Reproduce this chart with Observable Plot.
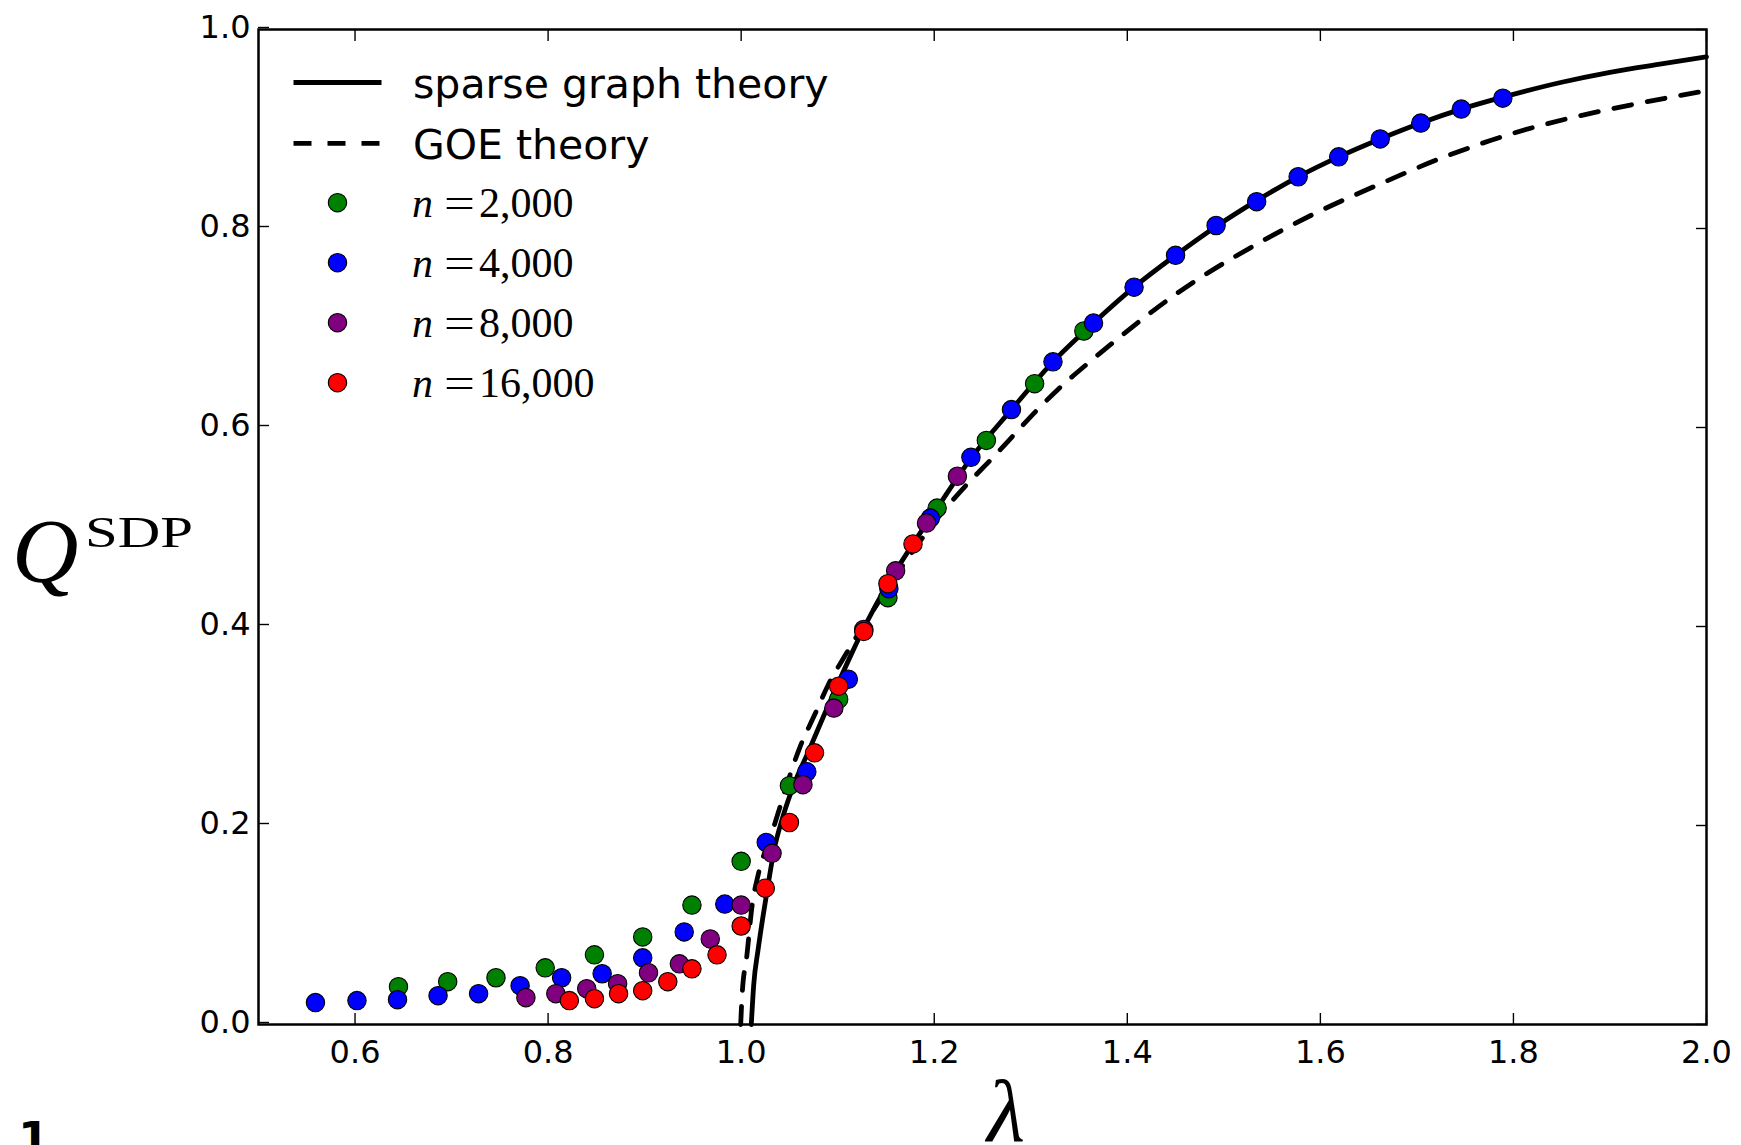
<!DOCTYPE html>
<html>
<head>
<meta charset="utf-8">
<script src="https://cdn.jsdelivr.net/npm/d3@7"></script>
<script src="https://cdn.jsdelivr.net/npm/@observablehq/plot@0.6"></script>
<style>
  html, body { margin: 0; padding: 0; background: #fff; }
  #chart { position: relative; width: 1741px; height: 1145px; overflow: hidden; }
  #chart svg { display: block; }
</style>
</head>
<body>
<div id="chart"></div>
<script>
// ---------- data ----------
const xTicks = [0.6, 0.8, 1.0, 1.2, 1.4, 1.6, 1.8, 2.0];
const yTicks = [0.0, 0.2, 0.4, 0.6, 0.8, 1.0];

const seriesLabels = ["2,000", "4,000", "8,000", "16,000"];
const seriesColors = ["#008000", "#0000ff", "#800080", "#ff0000"];
const lineLabels = ["sparse graph theory", "GOE theory"];

// n = 2,000
const lambda2k = [0.645, 0.696, 0.746, 0.797, 0.848, 0.898, 0.949, 1.000, 1.050, 1.101, 1.152, 1.203, 1.254, 1.304, 1.355];
const q2k      = [0.038, 0.043, 0.047, 0.057, 0.070, 0.088, 0.120, 0.164, 0.240, 0.327, 0.429, 0.519, 0.587, 0.644, 0.697];

// n = 4,000
const lambda4k = [0.559, 0.602, 0.644, 0.686, 0.728, 0.771, 0.814, 0.856, 0.898, 0.941, 0.983, 1.026, 1.068, 1.111, 1.153,
                  1.196, 1.238, 1.280, 1.323, 1.365, 1.407, 1.450, 1.492, 1.534, 1.577, 1.619, 1.662, 1.704, 1.746, 1.789];
const q4k      = [0.022, 0.024, 0.025, 0.029, 0.031, 0.039, 0.047, 0.051, 0.067, 0.093, 0.121, 0.183, 0.254, 0.347, 0.438,
                  0.509, 0.570, 0.618, 0.666, 0.705, 0.741, 0.773, 0.803, 0.827, 0.852, 0.872, 0.890, 0.906, 0.920, 0.931];

// n = 8,000
const lambda8k = [0.777, 0.808, 0.840, 0.872, 0.904, 0.936, 0.968, 1.000, 1.032, 1.064, 1.096, 1.127, 1.160, 1.192, 1.224];
const q8k      = [0.027, 0.031, 0.036, 0.041, 0.052, 0.061, 0.086, 0.120, 0.172, 0.241, 0.318, 0.397, 0.456, 0.504, 0.551];

// n = 16,000
const lambda16k = [0.822, 0.848, 0.873, 0.898, 0.924, 0.949, 0.975, 1.000, 1.025, 1.050, 1.076, 1.101, 1.127, 1.152, 1.178];
const q16k      = [0.024, 0.026, 0.031, 0.034, 0.043, 0.056, 0.070, 0.099, 0.137, 0.203, 0.273, 0.340, 0.395, 0.443, 0.483];

// sparse graph theory (solid)
const sparseLambda = [1.0105, 1.013, 1.0175, 1.0225, 1.028, 1.034, 1.043, 1.055, 1.070, 1.085, 1.100, 1.115, 1.130, 1.152, 1.178,
                      1.203, 1.238, 1.280, 1.323, 1.365, 1.407, 1.450, 1.492, 1.534, 1.577, 1.619, 1.662, 1.704, 1.746, 1.789,
                      1.850, 1.900, 1.950, 2.000];
const sparseQ      = [0.000, 0.040, 0.075, 0.108, 0.141, 0.175, 0.208, 0.242, 0.275, 0.309, 0.342, 0.374, 0.404, 0.443, 0.483,
                      0.519, 0.569, 0.618, 0.666, 0.705, 0.741, 0.773, 0.802, 0.828, 0.852, 0.872, 0.890, 0.906, 0.920, 0.932,
                      0.947, 0.957, 0.965, 0.9725];

// GOE theory (dashed)
const goeLambda = [0.9995, 1.001, 1.006, 1.011, 1.018, 1.031, 1.040, 1.050, 1.061, 1.076, 1.090, 1.109, 1.130, 1.150, 1.170,
                   1.213, 1.235, 1.258, 1.282, 1.306, 1.329, 1.361, 1.395, 1.425, 1.470, 1.530, 1.594, 1.660, 1.726, 1.794,
                   1.863, 1.931, 2.000];
const goeQ      = [0.000, 0.030, 0.070, 0.117, 0.152, 0.190, 0.218, 0.249, 0.279, 0.311, 0.341, 0.373, 0.406, 0.436, 0.465,
                   0.520, 0.544, 0.567, 0.592, 0.617, 0.639, 0.666, 0.693, 0.716, 0.747, 0.782, 0.815, 0.844, 0.871, 0.894,
                   0.912, 0.926, 0.9385];

// ---------- tables ----------
const zip = (xs, ys) => xs.map((x, i) => ({lambda: x, q: ys[i]}));
const sparseRows = zip(sparseLambda, sparseQ);
const goeRows = zip(goeLambda, goeQ);
const dotSeries = [zip(lambda2k, q2k), zip(lambda4k, q4k), zip(lambda8k, q8k), zip(lambda16k, q16k)];

const W = 1741, H = 1145;
const dotR = 9.2;
const lineW = 4.8;
const dash = "18,16";

const chart = Plot.plot({
  width: W,
  height: H,
  marginLeft: 258,
  marginRight: 35,
  marginTop: 29,
  marginBottom: 121,
  x: {domain: [0.5, 2.0], label: null},
  y: {domain: [0, 1], label: null},
  style: {fontFamily: "'DejaVu Sans', sans-serif", fontSize: "32px", color: "black", background: "white", overflow: "visible"},
  marks: [
    Plot.line(sparseRows, {x: "lambda", y: "q", stroke: "black", strokeWidth: lineW, curve: "monotone-x"}),
    Plot.line(goeRows, {x: "lambda", y: "q", stroke: "black", strokeWidth: lineW, strokeDasharray: dash, curve: "monotone-x"}),
    ...dotSeries.map((rows, i) => Plot.dot(rows, {x: "lambda", y: "q", r: dotR, fill: seriesColors[i], stroke: "black", strokeWidth: 1.1})),
    Plot.axisX({anchor: "bottom", ticks: xTicks, tickSize: -11, tickPadding: 27, tickFormat: d => d.toFixed(1), strokeWidth: 1.4, label: null}),
    Plot.axisX({anchor: "top", ticks: xTicks, tickSize: -11, tickFormat: () => "", strokeWidth: 1.4, label: null}),
    Plot.axisY({anchor: "left", ticks: yTicks, tickSize: -11, tickPadding: 19, tickFormat: d => d.toFixed(1), dy: -2, strokeWidth: 1.4, label: null}),
    Plot.axisY({anchor: "right", ticks: yTicks, tickSize: -11, tickFormat: () => "", strokeWidth: 1.4, label: null}),
    Plot.frame({stroke: "black", strokeWidth: 2.5})
  ]
});

document.getElementById("chart").appendChild(chart);

// ---------- legend and axis titles ----------
const svg = d3.select(chart);
const serif = "'Liberation Serif', 'DejaVu Serif', serif";
const lg = svg.append("g").attr("text-anchor", "start");
const lx1 = 293.5, lx2 = 381.5, textX = 413;

// line entries
[[82.5, null], [143.3, dash]].forEach(([y, da], i) => {
  const l = lg.append("line").attr("x1", lx1).attr("x2", lx2).attr("y1", y).attr("y2", y)
    .attr("stroke", "black").attr("stroke-width", lineW);
  if (da) l.attr("stroke-dasharray", da);
  lg.append("text").attr("x", textX).attr("y", y + 15.5).attr("text-anchor", "start")
    .attr("font-family", "'DejaVu Sans', sans-serif").attr("font-size", 41).attr("fill", "black")
    .text(lineLabels[i]);
});

// marker entries
seriesLabels.forEach((lab, i) => {
  const cy = 202.7 + 60 * i;
  lg.append("circle").attr("cx", 337.5).attr("cy", cy).attr("r", dotR)
    .attr("fill", seriesColors[i]).attr("stroke", "black").attr("stroke-width", 1.1);
  const base = cy + 14;
  const t = lg.append("text").attr("y", base).attr("text-anchor", "start").attr("font-family", serif)
    .attr("font-size", 42).attr("fill", "black");
  t.append("tspan").attr("x", 412).attr("font-style", "italic").text("n");
  t.append("tspan").attr("x", 444).attr("textLength", 31).attr("lengthAdjust", "spacingAndGlyphs").text("=");
  t.append("tspan").attr("x", 479).text(lab);
});

// y axis title Q^SDP
svg.append("text").attr("x", 12).attr("y", 582).attr("text-anchor", "start")
  .attr("font-family", serif).attr("font-size", 92).attr("font-style", "italic").attr("fill", "black").text("Q");
svg.append("text").attr("x", 85).attr("y", 547).attr("text-anchor", "start").attr("font-size", 45)
  .attr("font-family", serif).attr("fill", "black")
  .attr("textLength", 108).attr("lengthAdjust", "spacingAndGlyphs").text("SDP");

// x axis title lambda
svg.append("text").attr("x", 1006).attr("y", 1141).attr("text-anchor", "middle")
  .attr("font-family", serif).attr("font-style", "italic")
  .attr("font-size", 88).attr("fill", "black").text("λ");

// panel number fragment at bottom-left
svg.append("text").attr("x", 18).attr("y", 1155).attr("text-anchor", "start")
  .attr("font-family", "'DejaVu Sans', sans-serif").attr("font-weight", "bold")
  .attr("font-size", 46).attr("fill", "black").text("1");
</script>
</body>
</html>
